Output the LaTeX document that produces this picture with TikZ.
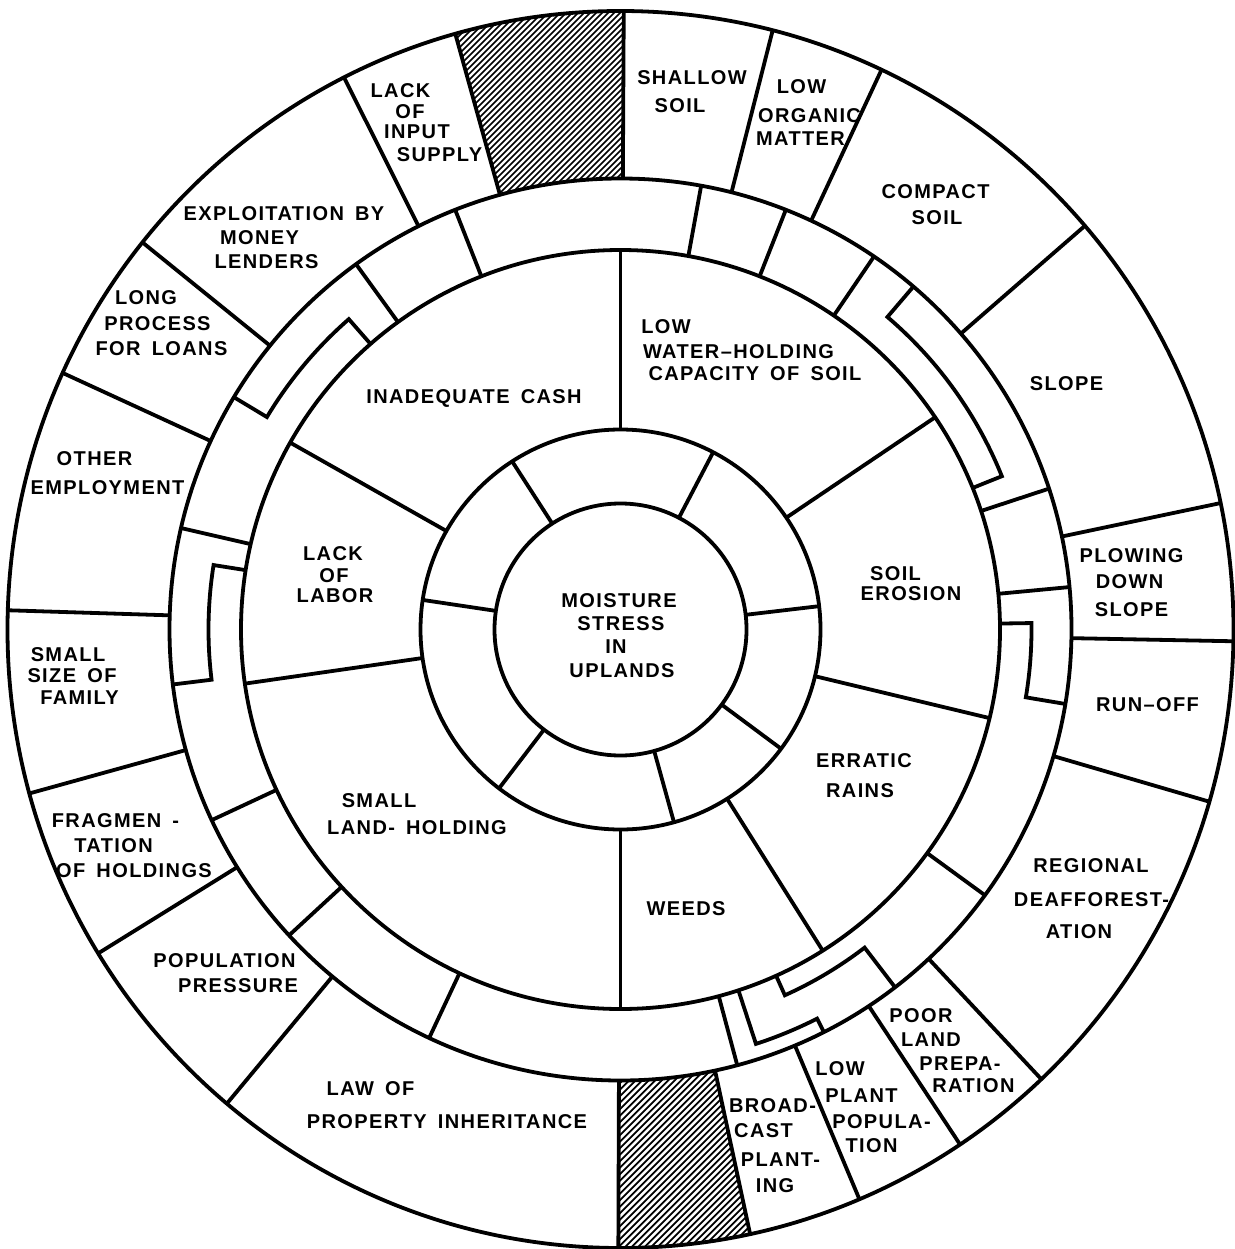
\documentclass[tikz,border=0pt]{standalone}
\usepackage{fontspec}
\setmainfont[LetterSpace=7,WordSpace=1.6]{Liberation Sans}
\begin{document}
\begin{tikzpicture}[x=1pt,y=1pt,line width=3.8pt,
  lab/.style={font=\fontsize{20}{24}\selectfont\bfseries, inner sep=0pt, anchor=base},
  hatchline/.style={line width=1.5pt}]
\useasboundingbox (0,0) rectangle (1234,-1249);
\begin{scope}[shift={(620.5,-629.5)}]
  \def\rA{126}\def\rB{200}\def\rC{379.5}\def\rD{451}
  % hatched sectors
  \begin{scope}
    \clip (0,0) ellipse [x radius=613, y radius=618.5];
    \clip (89.7:\rD) -- (89.7:700) -- (105.5:700) -- (105.5:\rD)
      arc[start angle=105.5, end angle=89.7, radius=\rD] -- cycle;
    \foreach \c in {425,431,...,800} \draw[hatchline] (-250,-250+\c) -- (60,60+\c);
  \end{scope}
  \begin{scope}
    \clip (0,0) ellipse [x radius=613, y radius=618.5];
    \clip (-90.2:\rD) -- (-90.2:700) -- (-77.9:700) -- (-77.9:\rD)
      arc[start angle=-77.9, end angle=-90.2, radius=\rD] -- cycle;
    \foreach \c in {-765,-758.5,...,-425} \draw[hatchline,line width=1.8pt] (-60,-60+\c) -- (200,200+\c);
  \end{scope}
  % circles
  \draw (0,0) circle [radius=\rA];
  \draw (0,0) circle [radius=\rB];
  \draw (0,0) circle [radius=\rC];
  \draw (0,0) circle [radius=\rD];
  % ring 2 radials
  \foreach \a in {122.8,62.4,6.7,-36.6,-74.5,-127.4,171.5}
    \draw (\a:\rA) -- (\a:\rB);
  % ring 3 radials
  \foreach \a in {90,34,-13.5,-57.8,-90,188.2,150.5}
    \draw (\a:\rB) -- (\a:\rC);
  % ring 4 radials
  \foreach \a in {111.5,125.9,167,205,222.7,244.9,-75,-36.1,5.4,18.2,55.8,68.5,79.7}
    \draw (\a:\rC) -- (\a:\rD);
  % ring 4 brackets
  \foreach \p/\q/\m in {131.2/149/412.5, 171/187/412, -71.9/-63.2/436, -65.8/-52.5/401, 0.9/-9.5/411, 21.9/49.5/411}
    \draw (\p:\rC) -- (\p:\m) arc[start angle=\p, end angle=\q, radius=\m] -- (\q:\rD);
  % outer ring radials
  \begin{scope}
    \clip (0,0) ellipse [x radius=613, y radius=618.5];
    \foreach \a in {89.7,105.5,116.6,141,155.3,178.2,195.5,211.8,230.3,-90.2,-77.9,-67.25,-56.6,-46.9,-16.3,-1.1,11.9,41,65,75.75}
      \draw (\a:\rD) -- (\a:660);
  \end{scope}
  \draw (0,0) ellipse [x radius=613, y radius=618.5];
\end{scope}
% labels (centre x / centre y in pixels)
\foreach \px/\py/\txt [count=\i] in {
  619/600/MOISTURE, 621/623/STRESS, 616/646/IN, 622/670/UPLANDS,
  474/396/INADEQUATE CASH,
  666/326/LOW, 738.5/351.5/WATER\textendash HOLDING, 755/373.5/CAPACITY OF SOIL,
  895.5/573/SOIL, 911/593/EROSION,
  864/760.5/ERRATIC, 860/790.5/RAINS,
  686/908/WEEDS,
  379/800.5/SMALL, 417/827/LAND- HOLDING,
  333/553/LACK, 334/575/OF, 335/595/LABOR,
  400.5/90/LACK, 410/111.5/OF, 417/131.5/INPUT, 439.5/154/SUPPLY,
  284/213/EXPLOITATION BY, 259.5/237/MONEY, 266.5/261/LENDERS,
  146/297/LONG, 157.5/323/PROCESS, 161.5/348/FOR LOANS,
  94.5/458.5/OTHER, 107.5/487/EMPLOYMENT,
  68/654/SMALL, 72/675/SIZE OF, 79.5/697/FAMILY,
  115.5/820/FRAGMEN -, 113.5/845/TATION, 134/870/OF HOLDINGS,
  224.5/960.5/POPULATION, 238/985.5/PRESSURE,
  370.5/1088/LAW OF, 447/1121/PROPERTY INHERITANCE,
  772.5/1105/BROAD-, 763.5/1130/CAST, 780.5/1159.5/PLANT-, 775/1185.5/ING,
  840/1068/LOW, 861.5/1095/PLANT, 881.5/1121/POPULA-, 871.5/1145.5/TION,
  921/1015/POOR, 931/1039/LAND, 960/1063/PREPA-, 973.5/1085/RATION,
  1091/865.5/REGIONAL, 1091.5/899.5/DEAFFOREST-, 1079/931/ATION,
  1147.5/704/RUN\textendash OFF,
  1131.5/555/PLOWING, 1129.5/581/DOWN, 1131.5/609/SLOPE,
  1066.5/383/SLOPE,
  935.5/191/COMPACT, 937/217/SOIL,
  801.5/86/LOW, 809.5/115/ORGANIC, 800.5/138/MATTER,
  692/77/SHALLOW, 680/105/SOIL}
  \node[lab] (t\i) at (\px,-\py-7.2) {\txt};
\end{tikzpicture}
\end{document}
